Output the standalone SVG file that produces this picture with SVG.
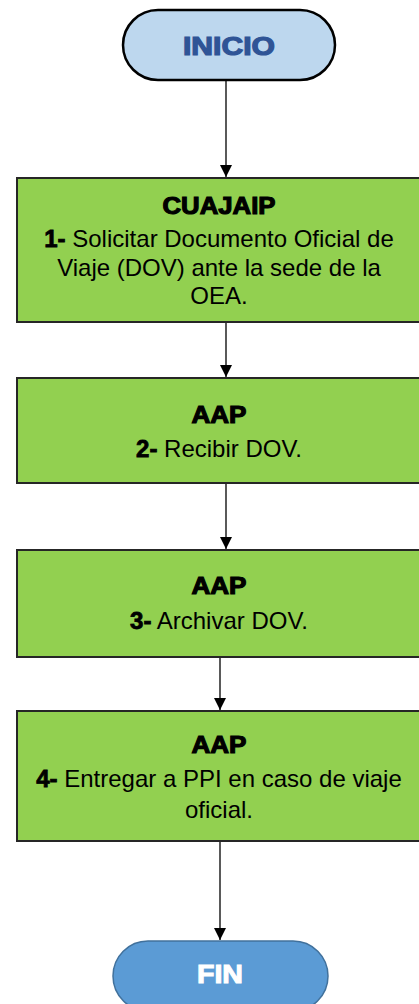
<svg xmlns="http://www.w3.org/2000/svg" width="419" height="1004" viewBox="0 0 419 1004">
  <style>
    .step { fill: #92D050; stroke: #262626; stroke-width: 2; }
    .head { font-family: "Liberation Sans", Arial, sans-serif; font-weight: bold; font-size: 23px; fill: #000; stroke: #000; stroke-width: 1.1; text-anchor: middle; }
    .body { font-family: "Liberation Sans", Arial, sans-serif; font-size: 24px; fill: #000; text-anchor: middle; }
    .num { font-weight: bold; stroke: #000; stroke-width: 0.8; }
    .wire { stroke: #000; stroke-width: 1.3; fill: none; marker-end: url(#arrow); }
  </style>
  <defs>
    <marker id="arrow" viewBox="0 0 12 12" refX="12" refY="6" markerWidth="12" markerHeight="12" markerUnits="userSpaceOnUse" orient="auto">
      <path d="M0,0 L12,6 L0,12 Z" fill="#000"/>
    </marker>
  </defs>
  <rect width="419" height="1004" fill="#fff"/>

  <g id="connectors">
    <line class="wire" x1="226" y1="80" x2="226" y2="177"/>
    <line class="wire" x1="226" y1="323" x2="226" y2="377"/>
    <line class="wire" x1="226" y1="484" x2="226" y2="549"/>
    <line class="wire" x1="220" y1="657" x2="220" y2="710"/>
    <line class="wire" x1="220" y1="841" x2="220" y2="940"/>
  </g>

  <g id="inicio">
    <rect x="123" y="10" width="212" height="70" rx="35" ry="35" fill="#BDD7EE" stroke="#000" stroke-width="2.5"/>
    <text x="229" y="55" font-family="'Liberation Sans', Arial, sans-serif" font-weight="bold" font-size="25" fill="#2F5496" stroke="#2F5496" stroke-width="1.2" text-anchor="middle" textLength="92" lengthAdjust="spacingAndGlyphs">INICIO</text>
  </g>

  <g id="step1">
    <rect class="step" x="17" y="178" width="404" height="144"/>
    <text class="head" x="219" y="214" textLength="113" lengthAdjust="spacingAndGlyphs">CUAJAIP</text>
    <text class="body" x="219" y="247"><tspan class="num">1-</tspan> Solicitar Documento Oficial de</text>
    <text class="body" x="219" y="276">Viaje (DOV) ante la sede de la</text>
    <text class="body" x="219" y="304">OEA.</text>
  </g>

  <g id="step2">
    <rect class="step" x="17" y="378" width="404" height="105"/>
    <text class="head" x="219" y="423" textLength="55" lengthAdjust="spacingAndGlyphs">AAP</text>
    <text class="body" x="219" y="457"><tspan class="num">2-</tspan> Recibir DOV.</text>
  </g>

  <g id="step3">
    <rect class="step" x="17" y="550" width="404" height="107"/>
    <text class="head" x="219" y="594" textLength="55" lengthAdjust="spacingAndGlyphs">AAP</text>
    <text class="body" x="219" y="629"><tspan class="num">3-</tspan> Archivar DOV.</text>
  </g>

  <g id="step4">
    <rect class="step" x="17" y="711" width="404" height="130"/>
    <text class="head" x="219" y="753" textLength="55" lengthAdjust="spacingAndGlyphs">AAP</text>
    <text class="body" x="219" y="787"><tspan class="num">4-</tspan> Entregar a PPI en caso de viaje</text>
    <text class="body" x="219" y="818">oficial.</text>
  </g>

  <g id="fin">
    <rect x="113" y="941" width="215" height="70" rx="35" ry="35" fill="#5B9BD5" stroke="#41719C" stroke-width="1.5"/>
    <text x="220" y="983" font-family="'Liberation Sans', Arial, sans-serif" font-weight="bold" font-size="25" fill="#fff" stroke="#fff" stroke-width="1" text-anchor="middle" textLength="46" lengthAdjust="spacingAndGlyphs">FIN</text>
  </g>
</svg>
